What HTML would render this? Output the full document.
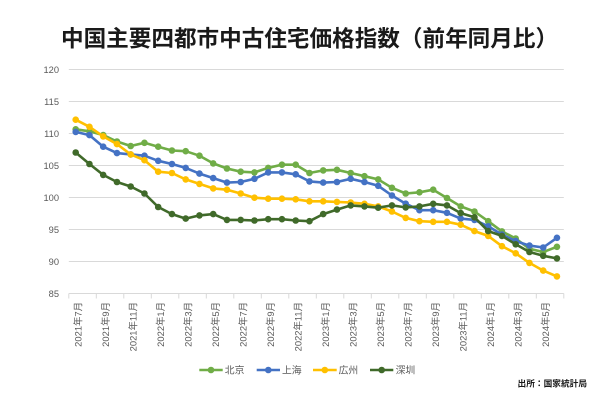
<!DOCTYPE html>
<html><head><meta charset="utf-8"><style>
html,body{margin:0;padding:0;background:#fff;}
svg{display:block;}
.t{font-family:"Liberation Sans","Noto Sans CJK JP",sans-serif;fill:#595959;}
</style></head><body>
<svg width="600" height="400" viewBox="0 0 600 400" xmlns="http://www.w3.org/2000/svg">
<defs>
<marker id="mg" markerUnits="userSpaceOnUse" markerWidth="8" markerHeight="8" refX="4" refY="4"><circle cx="4" cy="4" r="3.3" fill="#70AD47"/></marker>
<marker id="mb" markerUnits="userSpaceOnUse" markerWidth="8" markerHeight="8" refX="4" refY="4"><circle cx="4" cy="4" r="3.3" fill="#4472C4"/></marker>
<marker id="my" markerUnits="userSpaceOnUse" markerWidth="8" markerHeight="8" refX="4" refY="4"><circle cx="4" cy="4" r="3.3" fill="#FFC000"/></marker>
<marker id="md" markerUnits="userSpaceOnUse" markerWidth="8" markerHeight="8" refX="4" refY="4"><circle cx="4" cy="4" r="3.3" fill="#406A2A"/></marker>
</defs>
<rect width="600" height="400" fill="#fff"/>
<text x="61" y="46.5" font-family="'Noto Sans CJK JP','Noto Sans CJK SC',sans-serif" font-weight="bold" font-size="22.6" fill="#1a1a1a">中国主要四都市中古住宅価格指数（前年同月比）</text>

<g stroke="#D9D9D9" stroke-width="1">
<line x1="68.8" y1="69.5" x2="563.8" y2="69.5"/>
<line x1="68.8" y1="101.5" x2="563.8" y2="101.5"/>
<line x1="68.8" y1="133.5" x2="563.8" y2="133.5"/>
<line x1="68.8" y1="165.5" x2="563.8" y2="165.5"/>
<line x1="68.8" y1="197.5" x2="563.8" y2="197.5"/>
<line x1="68.8" y1="229.5" x2="563.8" y2="229.5"/>
<line x1="68.8" y1="261.5" x2="563.8" y2="261.5"/>
<line x1="68.8" y1="293.5" x2="563.8" y2="293.5"/>
<path d="M68.8 293.5v5M96.3 293.5v5M123.8 293.5v5M151.3 293.5v5M178.8 293.5v5M206.3 293.5v5M233.8 293.5v5M261.3 293.5v5M288.8 293.5v5M316.3 293.5v5M343.8 293.5v5M371.3 293.5v5M398.8 293.5v5M426.3 293.5v5M453.8 293.5v5M481.3 293.5v5M508.8 293.5v5M536.3 293.5v5M563.8 293.5v5"/>
</g>

<g class="t" font-size="9.3" text-anchor="end">
<text x="59" y="72.8">120</text>
<text x="59" y="104.8">115</text>
<text x="59" y="136.8">110</text>
<text x="59" y="168.8">105</text>
<text x="59" y="200.8">100</text>
<text x="59" y="232.8">95</text>
<text x="59" y="264.8">90</text>
<text x="59" y="296.8">85</text>
</g>

<g class="t" font-size="9.4" text-anchor="end">
<text transform="translate(81.3,302) rotate(-90)">2021年7月</text>
<text transform="translate(108.8,302) rotate(-90)">2021年9月</text>
<text transform="translate(136.3,302) rotate(-90)">2021年11月</text>
<text transform="translate(163.8,302) rotate(-90)">2022年1月</text>
<text transform="translate(191.3,302) rotate(-90)">2022年3月</text>
<text transform="translate(218.8,302) rotate(-90)">2022年5月</text>
<text transform="translate(246.3,302) rotate(-90)">2022年7月</text>
<text transform="translate(273.8,302) rotate(-90)">2022年9月</text>
<text transform="translate(301.3,302) rotate(-90)">2022年11月</text>
<text transform="translate(328.8,302) rotate(-90)">2023年1月</text>
<text transform="translate(356.3,302) rotate(-90)">2023年3月</text>
<text transform="translate(383.8,302) rotate(-90)">2023年5月</text>
<text transform="translate(411.3,302) rotate(-90)">2023年7月</text>
<text transform="translate(438.8,302) rotate(-90)">2023年9月</text>
<text transform="translate(466.3,302) rotate(-90)">2023年11月</text>
<text transform="translate(493.8,302) rotate(-90)">2024年1月</text>
<text transform="translate(521.3,302) rotate(-90)">2024年3月</text>
<text transform="translate(548.8,302) rotate(-90)">2024年5月</text>
</g>

<g transform="translate(0.3,0.4)" fill="none" stroke-width="2.6" stroke-linejoin="round" stroke-linecap="round">
<polyline stroke="#70AD47" marker-start="url(#mg)" marker-mid="url(#mg)" marker-end="url(#mg)" points="75.4,128.9 89.15,130.9 102.9,134.7 116.65,141.1 130.4,145.6 144.15,142.4 157.9,146.3 171.65,150.1 185.4,150.8 199.15,155.3 212.9,163.0 226.65,168.1 240.4,171.3 254.15,172.0 267.9,167.5 281.65,164.3 295.4,164.3 309.15,172.6 322.9,170.0 336.65,169.4 350.4,172.6 364.15,175.8 377.9,179.0 391.65,187.4 405.4,193.1 419.15,191.9 432.9,189.3 446.65,197.6 460.4,206.0 474.15,211.1 487.9,220.8 501.65,231.0 515.4,238.1 529.15,248.4 542.9,251.6 556.65,246.4"/>
<polyline stroke="#4472C4" marker-start="url(#mb)" marker-mid="url(#mb)" marker-end="url(#mb)" points="75.4,131.5 89.15,134.7 102.9,146.3 116.65,152.7 130.4,154.0 144.15,155.3 157.9,160.4 171.65,163.6 185.4,167.5 199.15,173.2 212.9,177.7 226.65,182.2 240.4,181.6 254.15,178.4 267.9,172.0 281.65,172.0 295.4,173.9 309.15,181.0 322.9,182.2 336.65,181.6 350.4,178.4 364.15,181.6 377.9,185.4 391.65,195.1 405.4,203.3 419.15,209.8 432.9,209.8 446.65,212.4 460.4,218.2 474.15,219.5 487.9,225.9 501.65,234.2 515.4,240.7 529.15,245.2 542.9,247.1 556.65,237.4"/>
<polyline stroke="#FFC000" marker-start="url(#my)" marker-mid="url(#my)" marker-end="url(#my)" points="75.4,119.3 89.15,126.4 102.9,136.0 116.65,143.7 130.4,154.0 144.15,159.8 157.9,171.3 171.65,172.6 185.4,179.0 199.15,183.5 212.9,188.0 226.65,189.3 240.4,193.1 254.15,197.3 267.9,198.3 281.65,198.3 295.4,198.9 309.15,200.9 322.9,200.9 336.65,201.5 350.4,202.1 364.15,203.4 377.9,206.0 391.65,211.1 405.4,217.5 419.15,220.8 432.9,221.4 446.65,221.4 460.4,224.3 474.15,230.7 487.9,235.5 501.65,245.8 515.4,252.9 529.15,262.5 542.9,270.2 556.65,276.0"/>
<polyline stroke="#406A2A" marker-start="url(#md)" marker-mid="url(#md)" marker-end="url(#md)" points="75.4,152.1 89.15,163.6 102.9,174.5 116.65,181.6 130.4,186.1 144.15,193.1 157.9,206.6 171.65,213.7 185.4,218.2 199.15,215.0 212.9,213.7 226.65,219.5 240.4,219.5 254.15,220.1 267.9,218.8 281.65,218.8 295.4,220.1 309.15,220.8 322.9,213.7 336.65,209.2 350.4,205.0 364.15,206.0 377.9,207.3 391.65,205.0 405.4,207.0 419.15,206.0 432.9,203.4 446.65,205.0 460.4,212.7 474.15,216.9 487.9,230.7 501.65,235.5 515.4,243.9 529.15,251.6 542.9,255.4 556.65,258.0"/>
</g>

<g stroke-width="2.6">
<line x1="199.3" y1="370" x2="222.7" y2="370" stroke="#70AD47"/><circle cx="211" cy="370" r="3.3" fill="#70AD47"/>
<line x1="256.7" y1="370" x2="280" y2="370" stroke="#4472C4"/><circle cx="268.3" cy="370" r="3.3" fill="#4472C4"/>
<line x1="313" y1="370" x2="336.7" y2="370" stroke="#FFC000"/><circle cx="324.8" cy="370" r="3.3" fill="#FFC000"/>
<line x1="370" y1="370" x2="393.3" y2="370" stroke="#406A2A"/><circle cx="381.7" cy="370" r="3.3" fill="#406A2A"/>
</g>
<g class="t" font-size="9.8">
<text x="224.8" y="373.6">北京</text>
<text x="282" y="373.6">上海</text>
<text x="338.6" y="373.6">広州</text>
<text x="395.6" y="373.6">深圳</text>
</g>

<text x="517.5" y="386.3" font-family="'Noto Sans CJK JP',sans-serif" font-weight="bold" font-size="8.7" fill="#1a1a1a">出所：国家統計局</text>
</svg>
</body></html>
